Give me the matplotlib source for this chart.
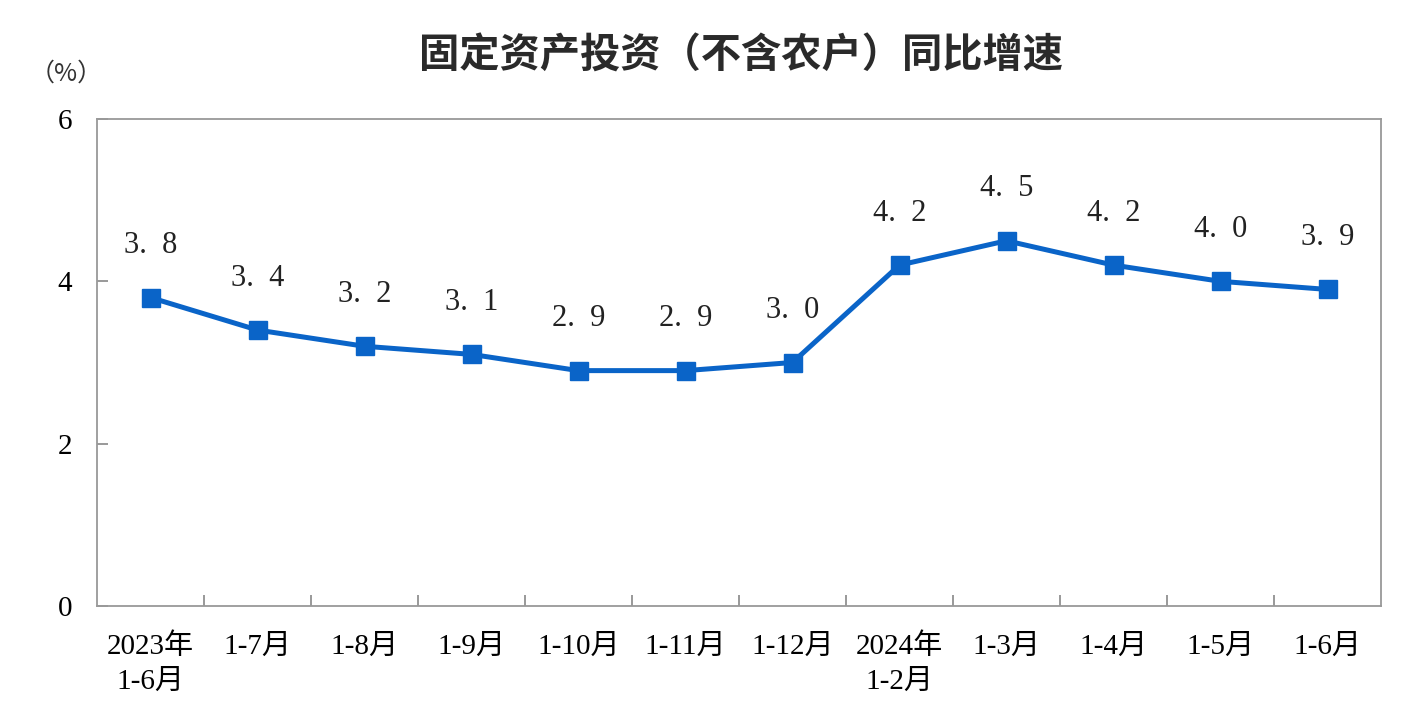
import matplotlib
matplotlib.use("Agg")
import matplotlib.pyplot as plt
import numpy as np

categories = ["2023年\n1-6月", "1-7月", "1-8月", "1-9月", "1-10月", "1-11月", "1-12月",
              "2024年\n1-2月", "1-3月", "1-4月", "1-5月", "1-6月"]
values = [3.8, 3.4, 3.2, 3.1, 2.9, 2.9, 3.0, 4.2, 4.5, 4.2, 4.0, 3.9]
yticks = [0, 2, 4, 6]

FAM = ["Liberation Serif", "Noto Sans CJK SC", "DejaVu Sans"]
plt.rcParams['font.family'] = FAM

fig = plt.figure(figsize=(14.06, 7.07), dpi=100)
ax = fig.add_axes([97/1406, 1-606/707, (1381-97)/1406, (606-119)/707])

color = "#0A64C8"
x = np.arange(len(values))
ax.plot(x, values, color=color, lw=3.6, marker="s", markersize=13, zorder=3)
for xi, v in zip(x, values):
    ax.annotate(f"{v:.1f}".replace(".", ".  "), (xi, v), xytext=(0, 52), textcoords="offset pixels",
                ha="center", va="center", fontsize=22, color="#222222", family=FAM)

ax.set_xlim(-0.5, len(values) - 0.5)
ax.set_ylim(0, 6)
ax.set_yticks(yticks)
ax.set_yticklabels([str(t) for t in yticks], fontsize=21)
ax.set_xticks(x)
ax.set_xticklabels(categories, fontsize=21, linespacing=1.42, va="top")
ax.set_xticks(np.arange(0.5, len(values) - 1, 1.0), minor=True)
ax.tick_params(axis="x", which="major", length=0, pad=20)
ax.tick_params(axis="x", which="minor", direction="in", length=8, color="#888888", width=1.2)
ax.tick_params(axis="y", direction="in", length=8, color="#888888", width=1.2, pad=18)
for s in ax.spines.values():
    s.set_color("#999999")
    s.set_linewidth(1.3)

fig.text(741/1406, 1-56/707, "固定资产投资（不含农户）同比增速", ha="center", va="center",
         fontsize=29, fontweight="bold", family=["Noto Sans CJK SC", "DejaVu Sans"], color="#2a2a2a")
fig.text(66/1406, 1-74/707, "（%）", ha="center", va="center", fontsize=18,
         family=["Noto Sans CJK SC", "DejaVu Sans"], color="#333333")

fig.savefig("out.png", dpi=100)
